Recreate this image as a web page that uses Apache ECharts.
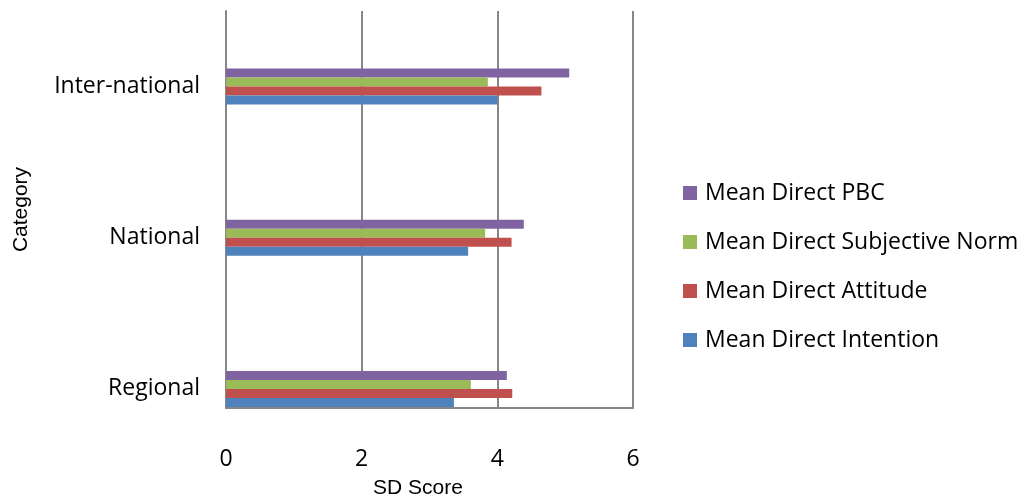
<!DOCTYPE html>
<html><head><meta charset="utf-8">
<script src="https://cdn.jsdelivr.net/npm/echarts@6/dist/echarts.min.js"></script>
<style>html,body{margin:0;padding:0;background:#fff}#c{width:1031px;height:504px}</style>
</head><body><div id="c"></div>
<script>
const categories = ['Regional', 'National', 'Inter-national'];
const seriesNames = ['Mean Direct PBC', 'Mean Direct Subjective Norm', 'Mean Direct Attitude', 'Mean Direct Intention'];
const pbc = [4.14, 4.39, 5.06];
const subjectiveNorm = [3.61, 3.82, 3.86];
const attitude = [4.22, 4.21, 4.65];
const intention = [3.36, 3.57, 4.00];
const xTicks = [0, 2, 4, 6];

const colors = ['#8064A2', '#9BBB59', '#C0504D', '#4F81BD'];
const values = [pbc, subjectiveNorm, attitude, intention];
const font = 'Open Sans';

const chart = echarts.init(document.getElementById('c'));
chart.setOption({
  animation: false,
  grid: [
    {left: 226, right: 398, top: 11, bottom: 39.5, containLabel: false},
    {left: 226, right: 398, top: 11, bottom: 89, containLabel: false}
  ],
  legend: {
    orient: 'vertical', left: 683, top: 181, padding: 0,
    data: seriesNames,
    icon: 'rect', itemWidth: 14, itemHeight: 14, itemGap: 25,
    textStyle: {fontFamily: font, fontSize: 23, color: '#000', lineHeight: 24, padding: [0,0,0,3]}
  },
  xAxis: [
    {gridIndex: 0, type: 'value', min: xTicks[0], max: xTicks[xTicks.length-1], interval: 2,
     show: false, splitLine: {show: false}},
    {gridIndex: 1, type: 'value', min: xTicks[0], max: xTicks[xTicks.length-1], interval: 2,
     axisLine: {show: true, lineStyle: {color: '#868686', width: 2}},
     axisTick: {show: false},
     splitLine: {show: true, lineStyle: {color: '#868686', width: 2}},
     axisLabel: {margin: 40, fontFamily: font, fontSize: 23, color: '#000'},
     name: 'SD Score', nameLocation: 'middle', nameGap: 70,
     nameTextStyle: {fontFamily: 'Liberation Sans', fontSize: 21, color: '#000', padding: [0, 23, 0, 0]}}
  ],
  yAxis: [
    {gridIndex: 0, type: 'category', data: categories,
     axisLine: {show: false}, axisTick: {show: false}, splitLine: {show: false},
     axisLabel: {margin: 26, fontFamily: font, fontSize: 23, color: '#000'}},
    {gridIndex: 1, type: 'category', data: categories,
     axisLine: {show: true, lineStyle: {color: '#868686', width: 2}},
     axisTick: {show: false}, axisLabel: {show: false}, splitLine: {show: false},
     name: 'Category', nameLocation: 'middle', nameGap: 194, nameRotate: 90,
     nameTextStyle: {fontFamily: 'Liberation Sans', fontSize: 21, color: '#000'}}
  ],
  series: seriesNames.map((n, i) => ({
    name: n, type: 'bar', xAxisIndex: 0, yAxisIndex: 0,
    data: values[i], barWidth: 9, barGap: '0%',
    itemStyle: {color: colors[i]}
  }))
});
</script></body></html>
